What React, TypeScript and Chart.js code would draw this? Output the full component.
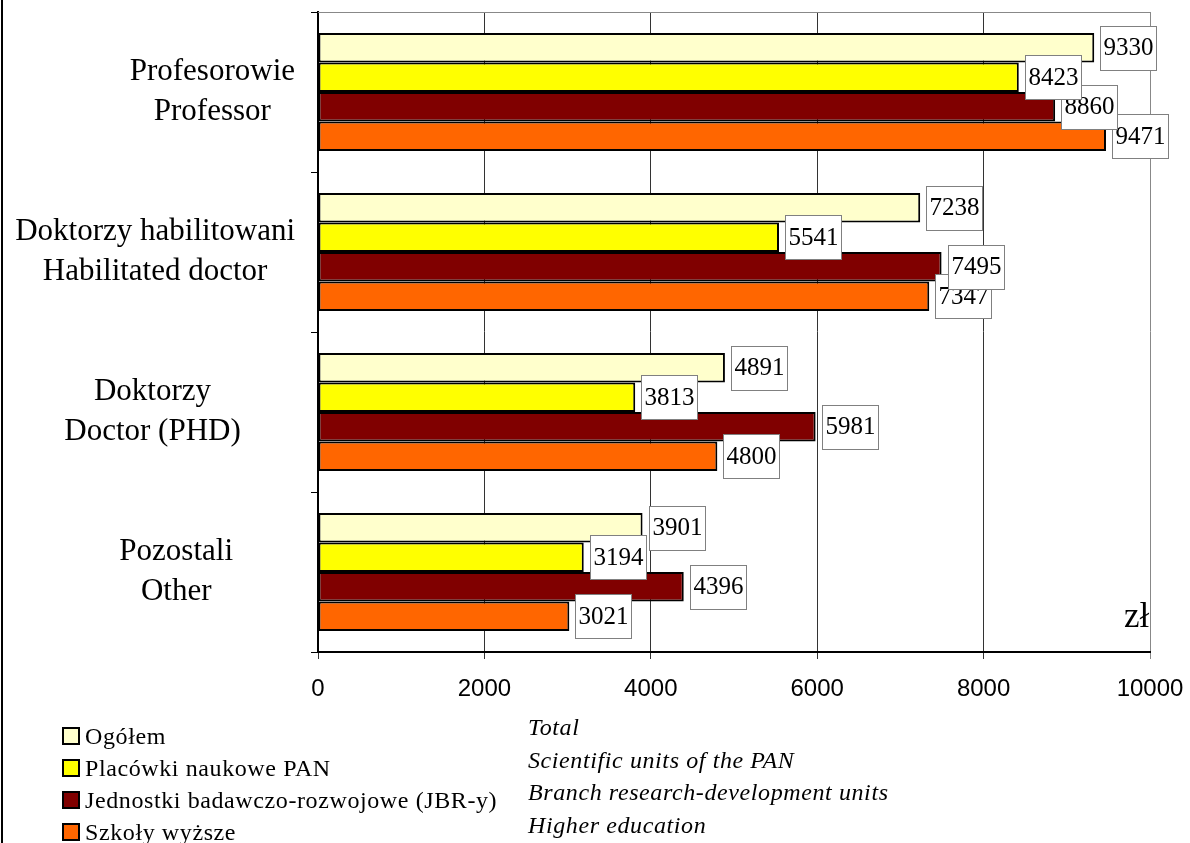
import React, { useEffect, useRef } from "react";
import { Chart, registerables } from "chart.js";

Chart.register(...registerables);

const categories: string[][] = [
  ["Profesorowie", "Professor"],
  ["Doktorzy habilitowani", "Habilitated doctor"],
  ["Doktorzy       ", "Doctor (PHD)       "],
  ["Pozostali        ", "Other        "],
];

const seriesPL = [
  "Ogółem",
  "Placówki naukowe PAN",
  "Jednostki badawczo-rozwojowe (JBR-y)",
  "Szkoły wyższe",
];
const seriesEN = [
  "Total",
  "Scientific units of the PAN",
  "Branch research-development units",
  "Higher education",
];
const seriesColors = ["#FFFFCC", "#FFFF00", "#800000", "#FF6600"];

const totalValues = [9330, 7238, 4891, 3901];
const panValues = [8423, 5541, 3813, 3194];
const jbrValues = [8860, 7495, 5981, 4396];
const universityValues = [9471, 7347, 4800, 3021];

const xTickMin = 0;
const xTickMax = 10000;
const xTickStep = 2000;
const unitLabel = "zł";

const SERIF = "'Liberation Serif', 'Times New Roman', serif";
const SANS = "'Liberation Sans', Arial, sans-serif";

const decorPlugin = {
  id: "decor",
  afterDatasetsDraw(chart: any) {
    const ctx = chart.ctx;
    const area = chart.chartArea;
    ctx.save();
    // top border of the plot area
    ctx.strokeStyle = "#888888";
    ctx.lineWidth = 1;
    ctx.beginPath();
    ctx.moveTo(area.left, area.top + 0.5);
    ctx.lineTo(area.right, area.top + 0.5);
    ctx.stroke();

    // value labels, drawn from last series to first
    ctx.font = `25px ${SERIF}`;
    ctx.textBaseline = "middle";
    ctx.textAlign = "left";
    for (let d = chart.data.datasets.length - 1; d >= 0; d--) {
      const meta = chart.getDatasetMeta(d);
      const values = chart.data.datasets[d].data as number[];
      meta.data.forEach((el: any, i: number) => {
        const { x, y } = el.getProps(["x", "y"], true);
        const txt = String(values[i]);
        const w = ctx.measureText(txt).width + 6;
        const h = 44;
        const bx = Math.round(x + 6) + 0.5;
        const by = Math.round(y - h / 2) + 0.5;
        ctx.fillStyle = "#ffffff";
        ctx.fillRect(bx, by, w, h);
        ctx.strokeStyle = "#808080";
        ctx.lineWidth = 1;
        ctx.strokeRect(bx, by, w, h);
        ctx.fillStyle = "#000000";
        ctx.fillText(txt, bx + 3, y + 1);
      });
    }
    ctx.restore();
  },
  afterDraw(chart: any) {
    const ctx = chart.ctx;
    const area = chart.chartArea;
    const yScale = chart.scales.y;
    ctx.save();

    // left frame line
    ctx.fillStyle = "#000000";
    ctx.fillRect(1, 0, 2, chart.height);

    // category labels: centered lines in a right-aligned block
    ctx.font = `31px ${SERIF}`;
    ctx.textBaseline = "middle";
    ctx.textAlign = "left";
    ctx.fillStyle = "#000000";
    const right = area.left - 23;
    (chart.data.labels as string[][]).forEach((lines, i) => {
      const cy = yScale.getPixelForTick(i);
      const widths = lines.map((l) => ctx.measureText(l).width);
      const W = Math.max(...widths);
      const cx = right - W / 2;
      const lh = 40;
      lines.forEach((l, k) => {
        const ly = cy + (k - (lines.length - 1) / 2) * lh;
        ctx.fillText(l, cx - widths[k] / 2, ly);
      });
    });

    // unit label
    ctx.font = `35px ${SERIF}`;
    ctx.textBaseline = "alphabetic";
    ctx.fillText(unitLabel, area.right - 26, area.bottom - 25);

    // legend
    const ds = chart.data.datasets;
    ds.forEach((d: any, i: number) => {
      const cy = 736 + i * 32;
      ctx.fillStyle = d.backgroundColor;
      ctx.fillRect(62, cy - 9, 18, 18);
      ctx.strokeStyle = "#000000";
      ctx.lineWidth = 2;
      ctx.strokeRect(63, cy - 8, 16, 16);
      ctx.fillStyle = "#000000";
      ctx.font = `24px ${SERIF}`;
      (ctx as any).letterSpacing = "0.6px";
      ctx.textBaseline = "alphabetic";
      ctx.fillText(d.label, 85, cy + 8);
      ctx.font = `italic 24px ${SERIF}`;
      ctx.fillText(seriesEN[i], 528, 735 + i * 32.5);
      (ctx as any).letterSpacing = "0px";
    });
    ctx.restore();
  },
};

export default function App() {
  const ref = useRef<HTMLCanvasElement | null>(null);
  useEffect(() => {
    if (!ref.current) return;
    const valueSets = [totalValues, panValues, jbrValues, universityValues];
    const chart = new Chart(ref.current, {
      type: "bar",
      data: {
        labels: categories as any,
        datasets: valueSets.map((v, i) => ({
          label: seriesPL[i],
          data: v,
          backgroundColor: seriesColors[i],
          borderColor: "#000000",
          borderWidth: 2,
          borderSkipped: false,
          categoryPercentage: 0.7375,
          barPercentage: 1,
        })),
      },
      options: {
        indexAxis: "y",
        responsive: false,
        animation: false,
        devicePixelRatio: 1,
        layout: { padding: { top: 12, right: 40, left: 0, bottom: 0 } },
        plugins: { legend: { display: false }, tooltip: { enabled: false } },
        scales: {
          x: {
            min: xTickMin,
            max: xTickMax,
            ticks: {
              stepSize: xTickStep,
              color: "#000000",
              font: { family: SANS, size: 24 },
              padding: 16,
              maxRotation: 0,
              callback: (v: any) => String(v),
            },
            grid: {
              color: (c: any) => (c.tick && c.tick.value === xTickMax ? "#888888" : "#333333"),
              lineWidth: 1,
              tickLength: 7,
              drawTicks: true,
            },
            border: { color: "#000000", width: 2 },
            afterFit(s: any) {
              s.height = 191;
              s.paddingRight = 0;
              s.paddingLeft = 0;
            },
          },
          y: {
            ticks: { display: false },
            grid: {
              drawOnChartArea: false,
              drawTicks: true,
              tickLength: 7,
              color: "#000000",
              lineWidth: 1,
            },
            border: { color: "#000000", width: 2 },
            afterFit(s: any) {
              s.width = 318;
            },
          },
        },
      } as any,
      plugins: [decorPlugin],
    });
    return () => chart.destroy();
  }, []);
  return (
    <div style={{ position: "absolute", left: 0, top: 0, width: 1190, height: 843, background: "#fff" }}>
      <canvas ref={ref} width={1190} height={843} style={{ width: 1190, height: 843 }} />
    </div>
  );
}
